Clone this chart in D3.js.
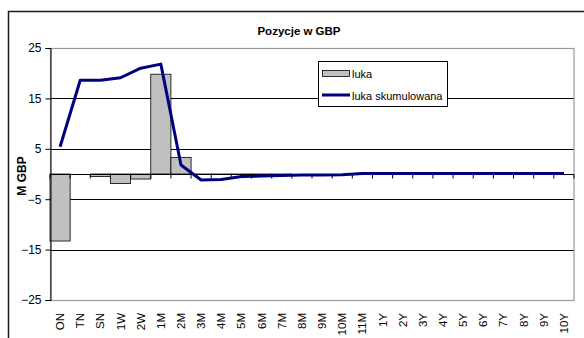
<!DOCTYPE html>
<html>
<head>
<meta charset="utf-8">
<script src="https://cdn.jsdelivr.net/npm/d3@7"></script>
<style>
  html, body { margin: 0; padding: 0; background: #fff; }
  svg { display: block; font-family: "Liberation Sans", Arial, sans-serif; }
</style>
</head>
<body>
<svg id="chart" width="584" height="338"></svg>
<script>
// Maturity buckets
const categories = ["ON","TN","SN","1W","2W","1M","2M","3M","4M","5M","6M","7M","8M","9M","10M","11M",
                    "1Y","2Y","3Y","4Y","5Y","6Y","7Y","8Y","9Y","10Y"];
// Gap per bucket (M GBP)
const luka = [-13.3, 0, -0.5, -1.9, -1.0, 19.8, 3.3, -0.1, -0.05, -0.05, -0.05, -0.05, 0, 0, 0, 0,
              0, 0, 0, 0, 0, 0, 0, 0, 0, 0];
// Cumulative gap (M GBP)
const lukaSkumulowana = [5.4, 18.6, 18.6, 19.1, 21.0, 21.8, 1.8, -1.2, -1.1, -0.5, -0.4, -0.3, -0.2, -0.2, -0.15, 0.1,
                         0.1, 0.1, 0.1, 0.1, 0.1, 0.1, 0.1, 0.1, 0.1, 0.1];
const yTicks = [-25, -15, -5, 5, 15, 25];
const seriesNames = ["luka", "luka skumulowana"];
const titleText = "Pozycje w GBP";
const yTitle = "M GBP";

const svg = d3.select("#chart");
const plot = { left: 50, right: 574, top: 48, bottom: 300 };

// Outer chart frame
svg.append("rect")
  .attr("x", 8.5).attr("y", 11.5).attr("width", 700).attr("height", 500)
  .attr("fill", "#fff").attr("stroke", "#1a1a1a").attr("stroke-width", 1.5);

const x = d3.scaleBand().domain(categories).range([plot.left, plot.right]).padding(0);
const y = d3.scaleLinear().domain([-25, 25]).range([plot.bottom, plot.top]);

// Plot area
svg.append("rect")
  .attr("x", plot.left).attr("y", plot.top)
  .attr("width", plot.right - plot.left).attr("height", plot.bottom - plot.top)
  .attr("fill", "#fff");

// Gridlines
svg.append("g").selectAll("line")
  .data(yTicks.filter(t => t !== 25 && t !== -25))
  .join("line")
  .attr("x1", plot.left).attr("x2", plot.right)
  .attr("y1", d => Math.round(y(d)) + 0.5).attr("y2", d => Math.round(y(d)) + 0.5)
  .attr("stroke", "#000").attr("stroke-width", 1);

// Plot area border
svg.append("rect")
  .attr("x", plot.left + 0.5).attr("y", plot.top + 0.5)
  .attr("width", plot.right - plot.left - 0.5).attr("height", plot.bottom - plot.top)
  .attr("fill", "none").attr("stroke", "#9a9a9a").attr("stroke-width", 1.2);

// Bars
svg.append("g").selectAll("rect")
  .data(categories.map((c, i) => ({ c, v: luka[i] })))
  .join("rect")
  .attr("x", d => x(d.c))
  .attr("y", d => y(Math.max(0, d.v)))
  .attr("width", x.bandwidth())
  .attr("height", d => Math.abs(y(d.v) - y(0)))
  .attr("fill", "#c0c0c0").attr("stroke", "#000").attr("stroke-width", 0.8);

// Y axis
const yAxis = d3.axisLeft(y).tickValues(yTicks).tickSize(5).tickPadding(4).tickFormat(d3.format("d"));
const gy = svg.append("g").attr("transform", `translate(${plot.left + 0.5},0)`).call(yAxis);
gy.select(".domain").attr("stroke", "#000");
gy.selectAll(".tick line").attr("stroke", "#000");
gy.selectAll("text").attr("font-size", 12).attr("fill", "#000")
  .attr("font-family", "'Liberation Sans', Arial, sans-serif");

// X axis at zero with ticks between categories
const y0 = Math.round(y(0)) + 0.5;
svg.append("line")
  .attr("x1", plot.left).attr("x2", plot.right)
  .attr("y1", y0).attr("y2", y0)
  .attr("stroke", "#000").attr("stroke-width", 1);
svg.append("g").selectAll("line")
  .data(d3.range(categories.length + 1))
  .join("line")
  .attr("x1", i => plot.left + i * x.step()).attr("x2", i => plot.left + i * x.step())
  .attr("y1", y0).attr("y2", y0 + 4)
  .attr("stroke", "#000").attr("stroke-width", 1);

// Category labels at the bottom, rotated
svg.append("g").selectAll("text")
  .data(categories)
  .join("text")
  .attr("transform", d => `translate(${x(d) + x.bandwidth() / 2 + 4},313) rotate(-90)`)
  .attr("text-anchor", "end")
  .attr("font-size", 11.5)
  .attr("fill", "#000")
  .text(d => d);

// Cumulative line
const line = d3.line()
  .x((d, i) => x(categories[i]) + x.bandwidth() / 2)
  .y(d => y(d));
svg.append("path")
  .datum(lukaSkumulowana)
  .attr("d", line)
  .attr("fill", "none")
  .attr("stroke", "#000080")
  .attr("stroke-width", 3)
  .attr("stroke-linejoin", "round");

// Title
svg.append("text")
  .attr("x", 299).attr("y", 35)
  .attr("text-anchor", "middle")
  .attr("font-size", 11.5).attr("font-weight", "bold")
  .text(titleText);

// Y axis title
svg.append("text")
  .attr("transform", "translate(26,176) rotate(-90)")
  .attr("text-anchor", "middle")
  .attr("font-size", 12).attr("font-weight", "bold")
  .text(yTitle);

// Legend
const lg = svg.append("g").attr("transform", "translate(318,61)");
lg.append("rect").attr("x", 0.5).attr("y", 0.5).attr("width", 129).attr("height", 45)
  .attr("fill", "#fff").attr("stroke", "#000").attr("stroke-width", 1);
lg.append("rect").attr("x", 4.5).attr("y", 9.5).attr("width", 27).attr("height", 6)
  .attr("fill", "#c0c0c0").attr("stroke", "#000").attr("stroke-width", 0.8);
lg.append("text").attr("x", 34).attr("y", 16.5).attr("font-size", 11).text(seriesNames[0]);
lg.append("line").attr("x1", 4).attr("x2", 32).attr("y1", 34).attr("y2", 34)
  .attr("stroke", "#000080").attr("stroke-width", 3);
lg.append("text").attr("x", 34).attr("y", 38.5).attr("font-size", 11).text(seriesNames[1]);
</script>
</body>
</html>
